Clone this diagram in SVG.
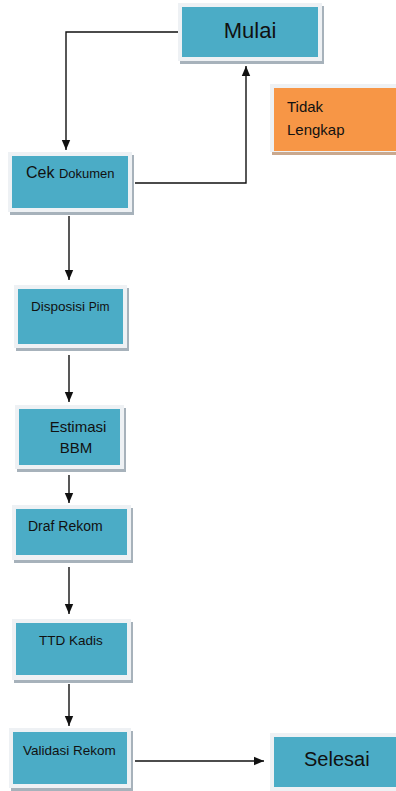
<svg xmlns="http://www.w3.org/2000/svg" width="396" height="791" viewBox="0 0 396 791">
<defs>
<style>
.sh{fill:#a7b2bb}
.fr{fill:#eef1f4}
.in{fill:#4bacc6}
.t{font-family:"Liberation Sans",Arial,sans-serif;fill:#111}
.c{stroke:#111;stroke-width:1.4;fill:none}
</style>
<marker id="ah" markerWidth="10" markerHeight="10" viewBox="0 0 10 10" refX="10" refY="5" orient="auto" markerUnits="userSpaceOnUse">
<path d="M0,0.8 L10,5 L0,9.2 Z" fill="#111"/>
</marker>
</defs>
<rect width="396" height="791" fill="#fff"/>
<g id="connectors">
<polyline class="c" points="178,32 66,32 66,150" marker-end="url(#ah)"/>
<polyline class="c" points="135,183 246,183 246,66" marker-end="url(#ah)"/>
<line class="c" x1="69" y1="216" x2="69" y2="280" marker-end="url(#ah)"/>
<line class="c" x1="69" y1="355" x2="69" y2="402" marker-end="url(#ah)"/>
<line class="c" x1="69" y1="475" x2="69" y2="503" marker-end="url(#ah)"/>
<line class="c" x1="69" y1="567" x2="69" y2="614" marker-end="url(#ah)"/>
<line class="c" x1="69" y1="684" x2="69" y2="726" marker-end="url(#ah)"/>
<line class="c" x1="135" y1="761" x2="264" y2="761" marker-end="url(#ah)"/>
</g>
<g id="mulai">
<rect class="sh" x="180" y="6" width="144" height="58"/>
<rect class="fr" x="178" y="3" width="144" height="58"/>
<rect class="in" x="182" y="7" width="136" height="50"/>
<text class="t" x="250" y="38" font-size="22" text-anchor="middle">Mulai</text>
</g>
<g id="tidak-lengkap">
<rect fill="#c9a88e" x="272" y="87" width="130" height="68"/>
<rect class="fr" x="270" y="84" width="130" height="68"/>
<rect fill="#f79646" x="274" y="88" width="130" height="63"/>
<text class="t" x="287" y="112" font-size="15">Tidak</text>
<text class="t" x="287" y="135" font-size="15">Lengkap</text>
</g>
<g id="cek-dokumen">
<rect class="sh" x="10" y="155" width="124" height="60"/>
<rect class="fr" x="8" y="152" width="124" height="60"/>
<rect class="in" x="12" y="156" width="116" height="52"/>
<text class="t" x="26" y="178"><tspan font-size="16">Cek </tspan><tspan font-size="13">Dokumen</tspan></text>
</g>
<g id="disposisi-pim">
<rect class="sh" x="16" y="288" width="113" height="63"/>
<rect class="fr" x="14" y="285" width="113" height="63"/>
<rect class="in" x="18" y="289" width="105" height="55"/>
<text class="t" x="31" y="311"><tspan font-size="13.5">Disposisi </tspan><tspan font-size="12">Pim</tspan></text>
</g>
<g id="estimasi-bbm">
<rect class="sh" x="17" y="408" width="109" height="64"/>
<rect class="fr" x="15" y="405" width="109" height="64"/>
<rect class="in" x="19" y="409" width="101" height="56"/>
<text class="t" x="78" y="432" font-size="15" text-anchor="middle">Estimasi</text>
<text class="t" x="76" y="453" font-size="15" text-anchor="middle">BBM</text>
</g>
<g id="draf-rekom">
<rect class="sh" x="14" y="508" width="119" height="55"/>
<rect class="fr" x="12" y="505" width="119" height="55"/>
<rect class="in" x="16" y="509" width="111" height="46"/>
<text class="t" x="28" y="531" font-size="14">Draf Rekom</text>
</g>
<g id="ttd-kadis">
<rect class="sh" x="14" y="622" width="119" height="61"/>
<rect class="fr" x="12" y="619" width="119" height="61"/>
<rect class="in" x="16" y="623" width="111" height="52"/>
<text class="t" x="71" y="645" font-size="13.5" text-anchor="middle">TTD Kadis</text>
</g>
<g id="validasi-rekom">
<rect class="sh" x="11" y="731" width="122" height="60"/>
<rect class="fr" x="9" y="728" width="122" height="60"/>
<rect class="in" x="13" y="732" width="114" height="52"/>
<text class="t" x="23" y="755" font-size="13.5">Validasi Rekom</text>
</g>
<g id="selesai">
<rect class="fr" x="270" y="733" width="130" height="60"/>
<rect class="in" x="274" y="737" width="130" height="50"/>
<text class="t" x="304" y="766" font-size="20">Selesai</text>
</g>
</svg>
